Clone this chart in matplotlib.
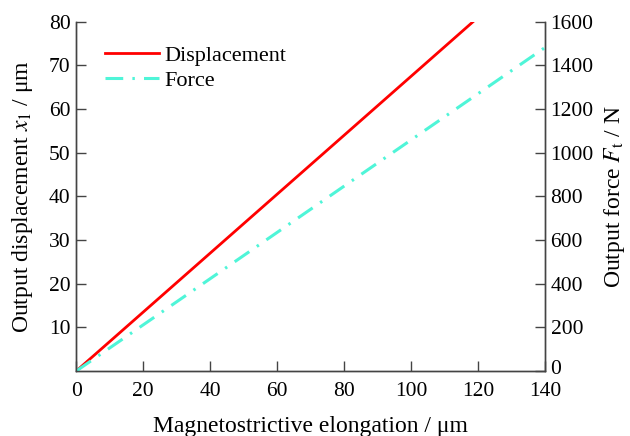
import matplotlib
matplotlib.use("Agg")
from matplotlib import pyplot as plt
from matplotlib.transforms import ScaledTranslation

plt.rcParams["font.family"] = ["Liberation Serif", "DejaVu Serif"]
plt.rcParams["mathtext.fontset"] = "stix"

# data
elong_disp = [0, 40, 80, 118.5]
displacement = [0, 27.0, 54.0, 80.0]
elong_force = [0, 40, 80, 140]
force = [0, 423, 847, 1482]

fig, ax = plt.subplots(figsize=(6.3, 4.36), dpi=100)
fig.subplots_adjust(left=0.121, right=0.865, top=0.95, bottom=0.149)
ax2 = ax.twinx()

l1, = ax.plot(elong_disp, displacement, color="red", lw=2.0)
l2, = ax2.plot(elong_force, force, color="#4ff5d8", lw=2.2, dashes=(5.8, 3.0, 0.8, 3.0))

ax.set_xlim(0, 140)
ax.set_ylim(0, 80)
ax2.set_ylim(0, 1600)
ax.set_xticks(range(0, 141, 20))
ax.set_yticks(range(10, 81, 10))
ax2.set_yticks(range(0, 1601, 200))

for a in (ax, ax2):
    a.spines["top"].set_visible(False)
    for s in a.spines.values():
        s.set_color("#444444")
        s.set_linewidth(1.0)
    a.tick_params(direction="in", length=7, width=1.0, color="#444444", labelsize=15.5, pad=4)
ax.tick_params(axis="x", pad=8)

# lift the right-hand "0" a little so it clears the "140" below it
lab0 = ax2.get_yticklabels()[0]
lab0.set_transform(lab0.get_transform() + ScaledTranslation(0, 3 / 72, fig.dpi_scale_trans))

ax.set_xlabel("Magnetostrictive elongation / μm", fontsize=17, labelpad=11)
ax.set_ylabel("Output displacement $x_1$ / μm", fontsize=17, labelpad=10)
ax2.set_ylabel("Output force $F_{\\mathrm{t}}$ / N", fontsize=17, labelpad=6)

ax.legend([l1, l2], ["Displacement", "Force"], loc="upper left", frameon=False,
          fontsize=16, handlelength=2.4, handletextpad=0.25, labelspacing=0.2,
          borderpad=0, borderaxespad=0, bbox_to_anchor=(0.062, 0.933))

fig.savefig("out.png", dpi=100)
